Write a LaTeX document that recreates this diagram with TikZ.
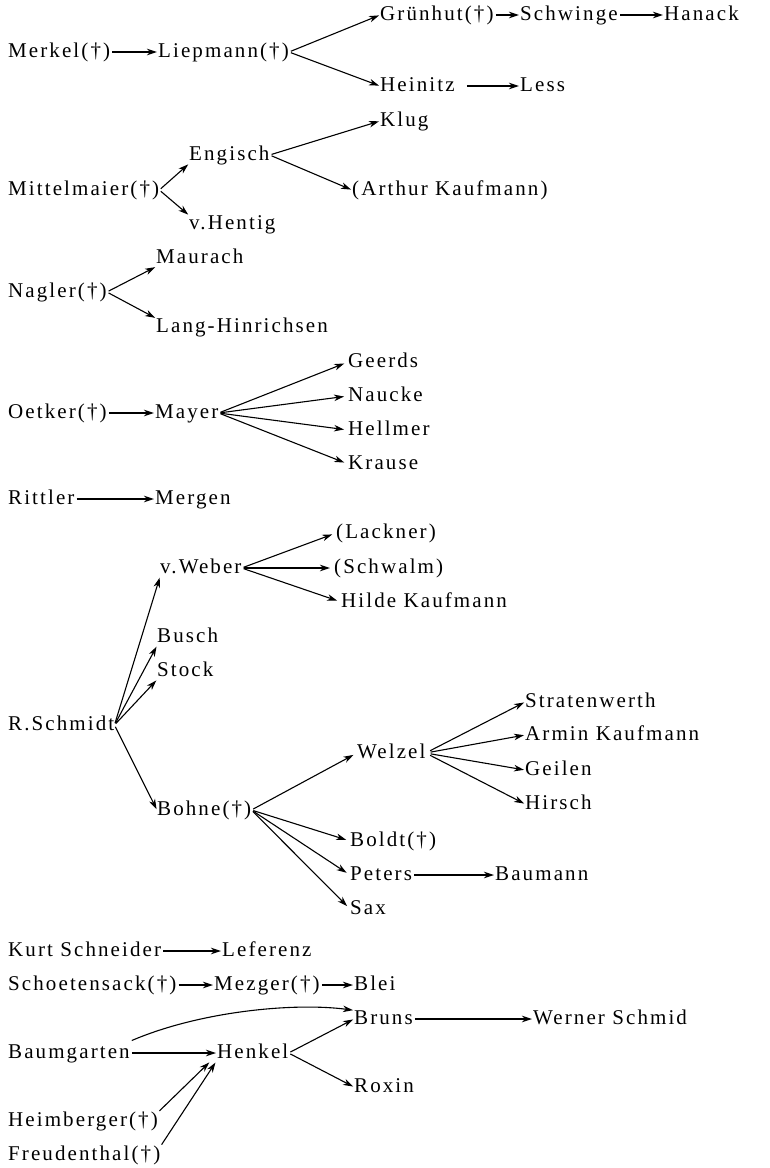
\documentclass[tikz,border=0pt]{standalone}
\usepackage{fontspec}
\setmainfont{Liberation Serif}[LetterSpace=10]
\usetikzlibrary{arrows.meta}
\begin{document}
\begin{tikzpicture}[x=1pt, y=-1pt,
    every node/.style={anchor=west, inner sep=0pt, text height=14pt, text depth=3pt,
      font=\fontsize{21}{24}\selectfont},
    link/.style={line width=1.1pt, -{Stealth[length=10pt,width=6.5pt,inset=3pt]},
      shorten <=2pt, shorten >=1pt}]
  \useasboundingbox (0,0) rectangle (769,1168);
  \node (merkel) at (8,52) {Merkel(†)};
  \node (liepmann) at (158,52) {Liepmann(†)};
  \node (gruenhut) at (380,15) {Grünhut(†)};
  \node (schwinge) at (520,15) {Schwinge};
  \node (hanack) at (664,15) {Hanack};
  \node (heinitz) at (380,86) {Heinitz};
  \node (less) at (520,86) {Less};
  \node (klug) at (380,121) {Klug};
  \node (engisch) at (189,155) {Engisch};
  \node (mittelmaier) at (8,190) {Mittelmaier(†)};
  \node (akaufmann) at (352,190) {(Arthur Kaufmann)};
  \node (hentig) at (189,224) {v.Hentig};
  \node (maurach) at (156,258) {Maurach};
  \node (nagler) at (8,292) {Nagler(†)};
  \node (lang) at (156,327) {Lang-Hinrichsen};
  \node (geerds) at (348,362) {Geerds};
  \node (naucke) at (348,396) {Naucke};
  \node (oetker) at (8,413) {Oetker(†)};
  \node (mayer) at (155,413) {Mayer};
  \node (hellmer) at (348,430) {Hellmer};
  \node (krause) at (348,464) {Krause};
  \node (rittler) at (8,499) {Rittler};
  \node (mergen) at (155,499) {Mergen};
  \node (lackner) at (336,533) {(Lackner)};
  \node (weber) at (160,568) {v.Weber};
  \node (schwalm) at (334,568) {(Schwalm)};
  \node (hkaufmann) at (341,602) {Hilde Kaufmann};
  \node (busch) at (157,637) {Busch};
  \node (stock) at (157,671) {Stock};
  \node (stratenwerth) at (525,702) {Stratenwerth};
  \node (rschmidt) at (8,725) {R.Schmidt};
  \node (armin) at (525,735) {Armin Kaufmann};
  \node (welzel) at (357,753) {Welzel};
  \node (geilen) at (525,770) {Geilen};
  \node (hirsch) at (525,804) {Hirsch};
  \node (bohne) at (157,810) {Bohne(†)};
  \node (boldt) at (350,841) {Boldt(†)};
  \node (peters) at (350,875) {Peters};
  \node (baumann) at (495,875) {Baumann};
  \node (sax) at (350,909) {Sax};
  \node (schneider) at (8,951) {Kurt Schneider};
  \node (leferenz) at (222,951) {Leferenz};
  \node (schoetensack) at (8,985) {Schoetensack(†)};
  \node (mezger) at (214,985) {Mezger(†)};
  \node (blei) at (354,985) {Blei};
  \node (bruns) at (354,1019) {Bruns};
  \node (wschmid) at (533,1019) {Werner Schmid};
  \node (baumgarten) at (8,1053) {Baumgarten};
  \node (henkel) at (217,1053) {Henkel};
  \node (roxin) at (354,1087) {Roxin};
  \node (heimberger) at (8,1121) {Heimberger(†)};
  \node (freudenthal) at (8,1155) {Freudenthal(†)};
  \path[link] (merkel.east) edge (liepmann.west)
              (liepmann.east) edge (gruenhut.west) edge (heinitz.west)
              (gruenhut.east) edge (schwinge.west)
              (schwinge.east) edge (hanack.west)
              (heinitz.east) edge[shorten <=12pt] (less.west)
              (mittelmaier.east) edge (engisch.south west) edge (hentig.north west)
              (engisch.east) edge (klug.west) edge (akaufmann.west)
              (nagler.east) edge (maurach.south west) edge (lang.north west)
              (oetker.east) edge (mayer.west)
              (rittler.east) edge (mergen.west);
  \path[link, shorten >=4pt] (mayer.east) edge (geerds.west) edge (naucke.west)
                                          edge (hellmer.west) edge (krause.west)
              (weber.east) edge (lackner.west) edge (schwalm.west) edge (hkaufmann.west)
              (bohne.east) edge (welzel.west) edge (boldt.west) edge (peters.west) edge (sax.west);
  \path[link] (rschmidt.east) edge (weber.south west) edge (busch.south west)
                              edge (stock.south west) edge (bohne.west)
              (welzel.east) edge[shorten <=5pt] (stratenwerth.west)
              (welzel.east) edge[shorten <=5pt] (armin.west)
              (welzel.east) edge[shorten <=5pt] (geilen.west)
              (welzel.east) edge[shorten <=5pt] (hirsch.west)
              (peters.east) edge (baumann.west)
              (schneider.east) edge (leferenz.west)
              (schoetensack.east) edge (mezger.west)
              (mezger.east) edge (blei.west)
              (bruns.east) edge (wschmid.west)
              (baumgarten.east) edge (henkel.west)
              (henkel.east) edge (bruns.west) edge (roxin.west)
              (heimberger.north east) edge ([xshift=-7pt]henkel.south west)
              (freudenthal.north east) edge ([xshift=-1pt]henkel.south west);
  \draw[link] ([yshift=3pt]baumgarten.north east) .. controls +(70,-30) and +(-60,-8) .. (bruns.north west);
\end{tikzpicture}
\end{document}
